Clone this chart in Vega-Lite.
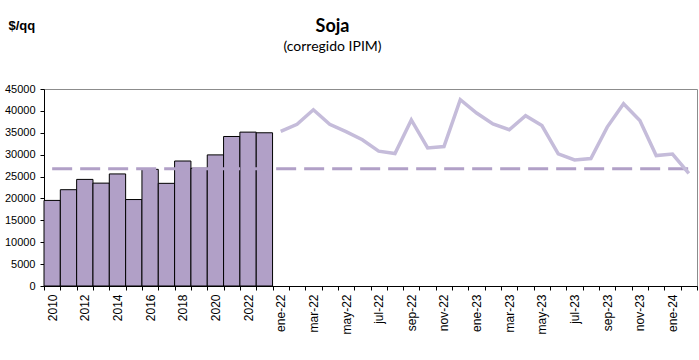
{
  "$schema": "https://vega.github.io/schema/vega-lite/v6.json",
  "width": 653,
  "height": 197,
  "autosize": {"type": "none"},
  "padding": {"left": 44, "top": 89, "right": 2, "bottom": 74},
  "background": "white",
  "view": {"stroke": "#8c8c8c", "strokeWidth": 1},
  "title": {
    "text": "Soja",
    "subtitle": "(corregido IPIM)",
    "anchor": "middle",
    "dx": -38,
    "offset": -35,
    "font": "Lato",
    "fontSize": 18,
    "fontWeight": "bold",
    "color": "#000000",
    "subtitleFont": "Lato",
    "subtitleFontSize": 14,
    "subtitleColor": "#000000",
    "subtitlePadding": 4
  },
  "config": {
    "axis": {
      "labelFont": "Liberation Sans",
      "labelFontSize": 11,
      "labelColor": "#000000",
      "domainColor": "#000000",
      "tickColor": "#000000",
      "grid": false
    }
  },
  "data": {
    "values": [
      {"cat": "2010", "series": "bar", "value": 19550},
      {"cat": "2011", "series": "bar", "value": 22000},
      {"cat": "2012", "series": "bar", "value": 24350},
      {"cat": "2013", "series": "bar", "value": 23500},
      {"cat": "2014", "series": "bar", "value": 25600},
      {"cat": "2015", "series": "bar", "value": 19750},
      {"cat": "2016", "series": "bar", "value": 26650},
      {"cat": "2017", "series": "bar", "value": 23450},
      {"cat": "2018", "series": "bar", "value": 28550},
      {"cat": "2019", "series": "bar", "value": 26900},
      {"cat": "2020", "series": "bar", "value": 29950},
      {"cat": "2021", "series": "bar", "value": 34150},
      {"cat": "2022", "series": "bar", "value": 35150},
      {"cat": "2023", "series": "bar", "value": 35000},
      {"cat": "ene-22", "series": "line", "value": 35300},
      {"cat": "feb-22", "series": "line", "value": 36950},
      {"cat": "mar-22", "series": "line", "value": 40250},
      {"cat": "abr-22", "series": "line", "value": 36950},
      {"cat": "may-22", "series": "line", "value": 35250},
      {"cat": "jun-22", "series": "line", "value": 33400},
      {"cat": "jul-22", "series": "line", "value": 30800},
      {"cat": "ago-22", "series": "line", "value": 30250},
      {"cat": "sep-22", "series": "line", "value": 37950},
      {"cat": "oct-22", "series": "line", "value": 31550},
      {"cat": "nov-22", "series": "line", "value": 31850},
      {"cat": "dic-22", "series": "line", "value": 42550},
      {"cat": "ene-23", "series": "line", "value": 39500},
      {"cat": "feb-23", "series": "line", "value": 37000},
      {"cat": "mar-23", "series": "line", "value": 35700},
      {"cat": "abr-23", "series": "line", "value": 38900},
      {"cat": "may-23", "series": "line", "value": 36650},
      {"cat": "jun-23", "series": "line", "value": 30200},
      {"cat": "jul-23", "series": "line", "value": 28800},
      {"cat": "ago-23", "series": "line", "value": 29100},
      {"cat": "sep-23", "series": "line", "value": 36300},
      {"cat": "oct-23", "series": "line", "value": 41650},
      {"cat": "nov-23", "series": "line", "value": 37800},
      {"cat": "dic-23", "series": "line", "value": 29800},
      {"cat": "ene-24", "series": "line", "value": 30150},
      {"cat": "feb-24", "series": "line", "value": 25750},
      {"cat": "2010", "series": "avg", "value": 26800},
      {"cat": "2011", "series": "avg", "value": 26800},
      {"cat": "2012", "series": "avg", "value": 26800},
      {"cat": "2013", "series": "avg", "value": 26800},
      {"cat": "2014", "series": "avg", "value": 26800},
      {"cat": "2015", "series": "avg", "value": 26800},
      {"cat": "2016", "series": "avg", "value": 26800},
      {"cat": "2017", "series": "avg", "value": 26800},
      {"cat": "2018", "series": "avg", "value": 26800},
      {"cat": "2019", "series": "avg", "value": 26800},
      {"cat": "2020", "series": "avg", "value": 26800},
      {"cat": "2021", "series": "avg", "value": 26800},
      {"cat": "2022", "series": "avg", "value": 26800},
      {"cat": "2023", "series": "avg", "value": 26800},
      {"cat": "ene-22", "series": "avg", "value": 26800},
      {"cat": "feb-22", "series": "avg", "value": 26800},
      {"cat": "mar-22", "series": "avg", "value": 26800},
      {"cat": "abr-22", "series": "avg", "value": 26800},
      {"cat": "may-22", "series": "avg", "value": 26800},
      {"cat": "jun-22", "series": "avg", "value": 26800},
      {"cat": "jul-22", "series": "avg", "value": 26800},
      {"cat": "ago-22", "series": "avg", "value": 26800},
      {"cat": "sep-22", "series": "avg", "value": 26800},
      {"cat": "oct-22", "series": "avg", "value": 26800},
      {"cat": "nov-22", "series": "avg", "value": 26800},
      {"cat": "dic-22", "series": "avg", "value": 26800},
      {"cat": "ene-23", "series": "avg", "value": 26800},
      {"cat": "feb-23", "series": "avg", "value": 26800},
      {"cat": "mar-23", "series": "avg", "value": 26800},
      {"cat": "abr-23", "series": "avg", "value": 26800},
      {"cat": "may-23", "series": "avg", "value": 26800},
      {"cat": "jun-23", "series": "avg", "value": 26800},
      {"cat": "jul-23", "series": "avg", "value": 26800},
      {"cat": "ago-23", "series": "avg", "value": 26800},
      {"cat": "sep-23", "series": "avg", "value": 26800},
      {"cat": "oct-23", "series": "avg", "value": 26800},
      {"cat": "nov-23", "series": "avg", "value": 26800},
      {"cat": "dic-23", "series": "avg", "value": 26800},
      {"cat": "ene-24", "series": "avg", "value": 26800},
      {"cat": "feb-24", "series": "avg", "value": 26800}
    ]
  },
  "encoding": {
    "x": {
      "field": "cat",
      "type": "nominal",
      "sort": null,
      "scale": {"paddingInner": 0, "paddingOuter": 0},
      "axis": {
        "title": null,
        "labelAngle": 270,
        "labelAlign": "right",
        "labelBaseline": "middle",
        "labelFontSize": 12,
        "tickBand": "extent",
        "tickSize": 4,
        "labelPadding": 4,
        "labelOverlap": false,
        "labelExpr": "indexof(['2010','2012','2014','2016','2018','2020','2022','ene-22','mar-22','may-22','jul-22','sep-22','nov-22','ene-23','mar-23','may-23','jul-23','sep-23','nov-23','ene-24'], datum.value) >= 0 ? datum.value : ''"
      }
    },
    "y": {
      "field": "value",
      "type": "quantitative",
      "scale": {"domain": [0, 45000], "nice": false},
      "axis": {
        "title": "$/qq",
        "titleAngle": 0,
        "titleAlign": "left",
        "titleBaseline": "alphabetic",
        "titleX": -36,
        "titleY": -60,
        "titleFont": "Liberation Sans",
        "titleFontSize": 13,
        "titleFontWeight": "bold",
        "titleColor": "#000000",
        "values": [0, 5000, 10000, 15000, 20000, 25000, 30000, 35000, 40000, 45000],
        "labelOverlap": false,
        "labelFlush": false,
        "format": "d",
        "tickSize": 4,
        "labelPadding": 5
      }
    }
  },
  "layer": [
    {
      "transform": [{"filter": "datum.series === 'bar'"}],
      "mark": {"type": "bar", "fill": "#b1a0c7", "stroke": "#000000", "strokeWidth": 1}
    },
    {
      "transform": [{"filter": "datum.series === 'avg'"}],
      "mark": {"type": "line", "stroke": "#b1a0c7", "strokeWidth": 3, "strokeDash": [20, 8]}
    },
    {
      "transform": [{"filter": "datum.series === 'line'"}],
      "mark": {"type": "line", "stroke": "#c5bcda", "strokeWidth": 3.5, "strokeJoin": "miter"}
    }
  ]
}
